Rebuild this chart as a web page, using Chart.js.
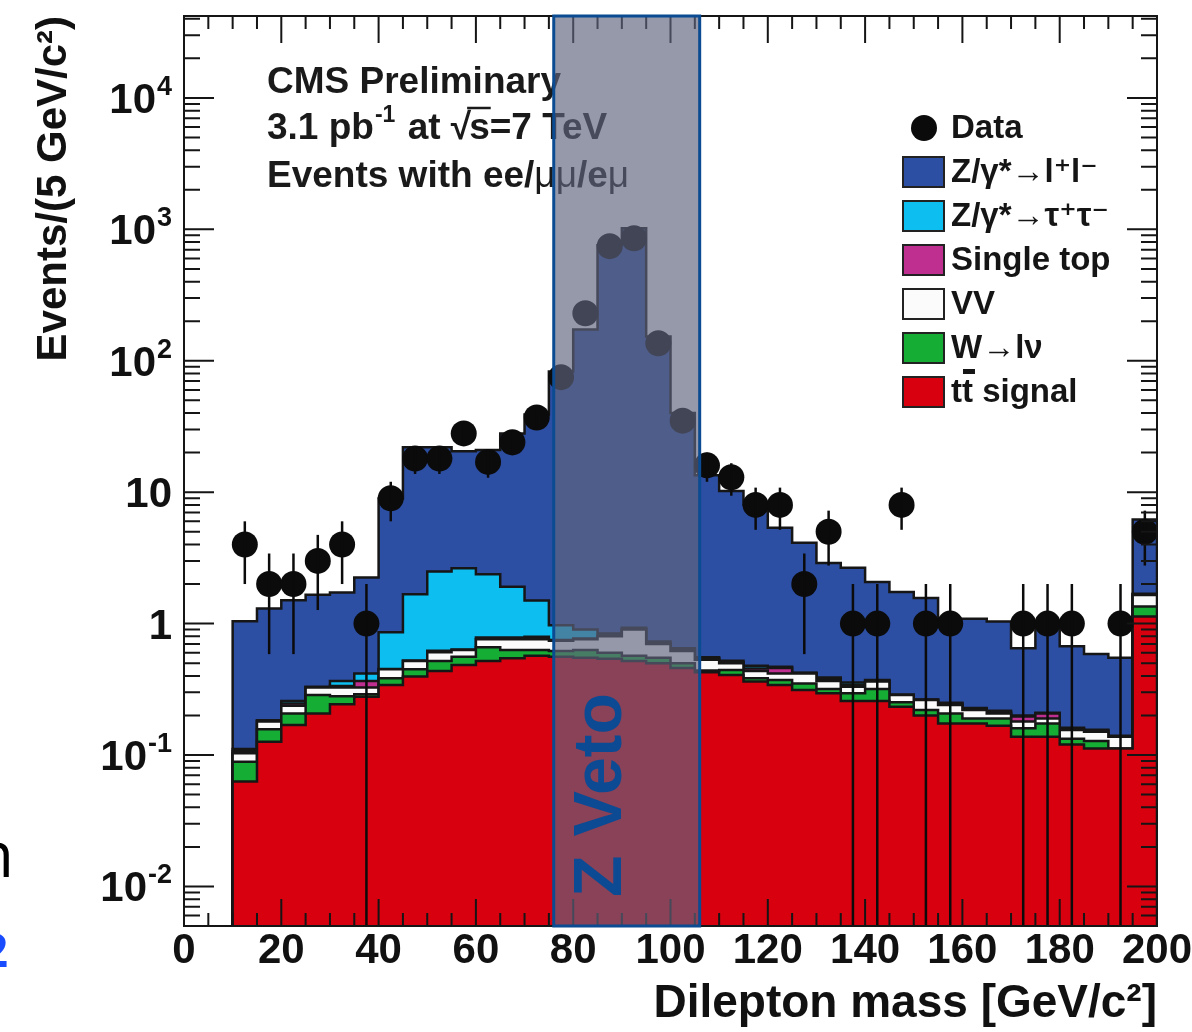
<!DOCTYPE html>
<html>
<head>
<meta charset="utf-8">
<title>Dilepton mass</title>
<script src="https://cdn.jsdelivr.net/npm/chart.js@4.4.1/dist/chart.umd.min.js"></script>
<style>
html, body { margin:0; padding:0; background:#ffffff; overflow:hidden; }
#wrap { position:relative; width:1192px; height:1032px; }
canvas { display:block; }
</style>
</head>
<body>
<div id="wrap"><canvas id="chart" width="1192" height="1032"></canvas></div>
<script>
// ---------------- values ----------------
const binLowEdges = [10,15,20,25,30,35,40,45,50,55,60,65,70,75,80,85,90,95,100,105,110,115,120,125,130,135,140,145,150,155,160,165,170,175,180,185,190,195];
const BIN_WIDTH = 5;

const ttSignal  = [0.063,0.126,0.169,0.207,0.243,0.278,0.341,0.395,0.436,0.485,0.52,0.544,0.57,0.56,0.55,0.54,0.52,0.50,0.46,0.426,0.407,0.362,0.341,0.313,0.295,0.258,0.258,0.233,0.20,0.174,0.174,0.167,0.138,0.138,0.12,0.112,0.112,1.13];
const wLnu      = [0.026,0.031,0.038,0.079,0.037,0.012,0.042,0.055,0.084,0.075,0.14,0.086,0.06,0.06,0.08,0.06,0.05,0.05,0.04,0.014,0.037,0.021,0.031,0.037,0.023,0.037,0.06,0.019,0.02,0.033,0.016,0.023,0.022,0.036,0.013,0.016,0.0,0.22];
const diboson   = [0.014,0.023,0.030,0.040,0.046,0.036,0.067,0.07,0.085,0.07,0.10,0.13,0.13,0.12,0.13,0.20,0.33,0.15,0.12,0.09,0.056,0.053,0.046,0.068,0.048,0.036,0.044,0.034,0.042,0.033,0.03,0.017,0.02,0.016,0.022,0.022,0.026,0.30];
const singleTop = [0.004,0.002,0.010,0.002,0.009,0.04,0.002,0.004,0.016,0.006,0.024,0.024,0.034,0.01,0.01,0.01,0.01,0.01,0.01,0.012,0.011,0.020,0.042,0.002,0.011,0.012,0.005,0.001,0.001,0.005,0.004,0.005,0.016,0.017,0.003,0.003,0.001,0.02];
const zTauTau   = [0.004,0.002,0.011,0.002,0.031,0.052,0.408,1.146,1.869,2.004,1.586,1.126,0.706,0.22,0.13,0.03,0.02,0.02,0.02,0.012,0.011,0.021,0.01,0.002,0.012,0.013,0.005,0.001,0.001,0.005,0.004,0.005,0.004,0.003,0.003,0.003,0.001,0.02];
const zLL       = [0.93,1.12,1.25,1.33,1.36,1.82,8.1,20.3,19.5,17.8,18.6,26.1,37.5,82,172,756,1019,152,39.4,12.9,9.7,7.5,4.9,3.7,2.5,2.3,1.7,1.45,1.3,0.84,0.86,0.82,0.45,0.79,0.51,0.43,0.41,4.5];
const dataCounts = [4,2,2,3,4,1,9,18,18,28,17,24,37,75,230,745,855,136,35,16,13,8,8,2,5,1,1,8,1,1,0,0,1,1,1,0,1,5];

const yTickValues   = [0.01, 0.1, 1, 10, 100, 1000, 10000];
const yTickBases    = ['10', '10', '1', '10', '10', '10', '10'];
const yTickExponents = ['-2', '-1', '', '', '2', '3', '4'];
const X_MIN = 0, X_MAX = 200, Y_MIN = 0.005, Y_MAX = 42000;
const VETO_LOW = 76, VETO_HIGH = 106;
const legendLabels = ['Data','Z/\u03B3*\u2192l\u207Al\u207B','Z/\u03B3*\u2192\u03C4\u207A\u03C4\u207B','Single top','VV','W\u2192l\u03BD','tt signal'];

// ---------------- styling ----------------
const FONT = "'Liberation Sans', Arial, Helvetica, 'DejaVu Sans', sans-serif";
const layers = [
  { name:'tt signal',   values: ttSignal,  color:'#d8000f' },
  { name:'W->lnu',      values: wLnu,      color:'#16ad35' },
  { name:'VV',          values: diboson,   color:'#fbfbfb' },
  { name:'Single top',  values: singleTop, color:'#bf2f8f' },
  { name:'Z->tautau',   values: zTauTau,   color:'#0cbff0' },
  { name:'Z->ll',       values: zLL,       color:'#2d4fa3' }
];

// cumulative stack tops (bottom -> top)
const cumulative = [];
let running = binLowEdges.map(() => 0);
layers.forEach(l => {
  running = running.map((r, i) => r + l.values[i]);
  cumulative.push(running.slice());
});

function stepPoints(cum) {
  const xEnd = binLowEdges[binLowEdges.length - 1] + BIN_WIDTH;
  const pts = [{ x: binLowEdges[0], y: Y_MIN }];
  cum.forEach((v, i) => pts.push({ x: binLowEdges[i], y: v }));
  pts.push({ x: xEnd, y: cum[cum.length - 1] });
  pts.push({ x: xEnd, y: Y_MIN });
  return pts;
}

const datasets = [{
  label: 'Data',
  type: 'line',
  data: dataCounts.map((n, i) => ({ x: binLowEdges[i] + BIN_WIDTH / 2, y: n > 0 ? n : null })),
  showLine: false,
  pointRadius: 13,
  pointHoverRadius: 13,
  pointBackgroundColor: '#0b0b0b',
  pointBorderColor: '#0b0b0b',
  pointBorderWidth: 0,
  clip: false
}];
layers.forEach((l, k) => {
  datasets.push({
    label: l.name,
    type: 'line',
    data: stepPoints(cumulative[k]),
    stepped: 'before',
    fill: 'start',
    backgroundColor: l.color,
    borderColor: '#161616',
    borderWidth: 2.5,
    borderJoinStyle: 'miter',
    pointRadius: 0,
    pointHoverRadius: 0,
    tension: 0
  });
});

// ---------------- drawing helpers ----------------
function drawInfoText(ctx) {
  ctx.fillStyle = '#1a1a1a';
  ctx.textAlign = 'left';
  ctx.textBaseline = 'alphabetic';
  const B = `bold 37px ${FONT}`, R = `37px ${FONT}`, S = `bold 23px ${FONT}`;
  ctx.font = B;
  ctx.fillText('CMS Preliminary', 267, 93);

  let xx = 267;
  const yb = 139;
  ctx.font = B; ctx.fillText('3.1 pb', xx, yb); xx += ctx.measureText('3.1 pb').width + 1;
  ctx.font = S; ctx.fillText('-1', xx, yb - 17); xx += ctx.measureText('-1').width + 2;
  ctx.font = B; ctx.fillText(' at ', xx, yb); xx += ctx.measureText(' at ').width;
  ctx.fillText('\u221A', xx, yb); xx += ctx.measureText('\u221A').width - 2;
  const sW = ctx.measureText('s').width;
  ctx.fillText('s=7 TeV', xx, yb);
  ctx.save(); ctx.strokeStyle = '#1a1a1a'; ctx.lineWidth = 2.5;
  ctx.beginPath(); ctx.moveTo(xx - 2, yb - 31); ctx.lineTo(xx + sW + 1, yb - 31); ctx.stroke();
  ctx.restore();

  xx = 267;
  const y3 = 187;
  ctx.font = B; ctx.fillText('Events with ee/', xx, y3); xx += ctx.measureText('Events with ee/').width;
  ctx.font = R; ctx.fillText('\u03BC\u03BC', xx, y3); xx += ctx.measureText('\u03BC\u03BC').width;
  ctx.font = B; ctx.fillText('/e', xx, y3); xx += ctx.measureText('/e').width;
  ctx.font = R; ctx.fillText('\u03BC', xx, y3);
}

function drawYLabels(ctx, yScale) {
  const right = 172;
  ctx.fillStyle = '#111';
  ctx.textAlign = 'right';
  ctx.textBaseline = 'alphabetic';
  yTickValues.forEach((v, i) => {
    const py = yScale.getPixelForValue(v);
    let xr = right;
    if (yTickExponents[i]) {
      ctx.font = `bold 27px ${FONT}`;
      ctx.fillText(yTickExponents[i], xr, py - 3);
      xr -= ctx.measureText(yTickExponents[i]).width + 1;
    }
    ctx.font = `bold 42px ${FONT}`;
    ctx.fillText(yTickBases[i], xr, py + 15);
  });
}

function drawLegend(ctx) {
  const x0 = 903, boxW = 41, boxH = 30, rowH = 44, top = 128, textX = 951;
  const rowColors = [null, layers[5].color, layers[4].color, layers[3].color, layers[2].color, layers[1].color, layers[0].color];
  ctx.font = `bold 33px ${FONT}`;
  ctx.textBaseline = 'middle';
  ctx.textAlign = 'left';
  legendLabels.forEach((lab, i) => {
    const cy = top + i * rowH;
    if (i === 0) {
      ctx.fillStyle = '#0b0b0b';
      ctx.beginPath(); ctx.arc(x0 + 21, cy, 13, 0, Math.PI * 2); ctx.fill();
    } else {
      ctx.fillStyle = rowColors[i];
      ctx.fillRect(x0, cy - boxH / 2, boxW, boxH);
      ctx.strokeStyle = '#222'; ctx.lineWidth = 2;
      ctx.strokeRect(x0, cy - boxH / 2, boxW, boxH);
    }
    ctx.fillStyle = '#151515';
    ctx.fillText(lab, textX, cy + 1);
    if (i === legendLabels.length - 1) {
      const wt = ctx.measureText('t').width;
      ctx.fillRect(textX + wt + 1, cy - 23, wt + 1, 5);
    }
  });
}

const rootPlugin = {
  id: 'rootStyle',
  afterDatasetsDraw(chart) {
    const { ctx, chartArea: ca, scales: { x, y } } = chart;
    ctx.save();
    ctx.beginPath(); ctx.rect(ca.left, ca.top, ca.right - ca.left, ca.bottom - ca.top); ctx.clip();
    ctx.strokeStyle = '#0b0b0b'; ctx.lineWidth = 2.5;
    dataCounts.forEach((n, i) => {
      if (n <= 0) return;
      const px = x.getPixelForValue(binLowEdges[i] + BIN_WIDTH / 2);
      const e = Math.sqrt(n);
      const yHi = y.getPixelForValue(n + e);
      const lo = n - e;
      const yLo = lo > Y_MIN ? y.getPixelForValue(lo) : ca.bottom;
      ctx.beginPath(); ctx.moveTo(px, yHi); ctx.lineTo(px, yLo); ctx.stroke();
    });
    ctx.restore();
  },
  afterDraw(chart) {
    const { ctx, chartArea: ca, scales: { x, y } } = chart;
    ctx.save();
    drawInfoText(ctx);
    drawYLabels(ctx, y);

    // tick marks inside the frame, on all four sides
    ctx.strokeStyle = '#151515'; ctx.lineWidth = 2; ctx.lineCap = 'butt';
    ctx.beginPath();
    for (let v = X_MIN; v <= X_MAX; v += 5) {
      const px = x.getPixelForValue(v);
      const len = v % 20 === 0 ? 27 : 13;
      ctx.moveTo(px, ca.bottom); ctx.lineTo(px, ca.bottom - len);
      ctx.moveTo(px, ca.top); ctx.lineTo(px, ca.top + len);
    }
    for (let d = -3; d <= 4; d++) {
      for (let m = 1; m <= 9; m++) {
        const v = m * Math.pow(10, d);
        if (v < Y_MIN || v > Y_MAX) continue;
        const py = y.getPixelForValue(v);
        const len = m === 1 ? 30 : 16;
        ctx.moveTo(ca.left, py); ctx.lineTo(ca.left + len, py);
        ctx.moveTo(ca.right, py); ctx.lineTo(ca.right - len, py);
      }
    }
    ctx.stroke();
    ctx.strokeRect(ca.left, ca.top, ca.right - ca.left, ca.bottom - ca.top);

    drawLegend(ctx);

    // Z veto window
    const vx1 = x.getPixelForValue(VETO_LOW), vx2 = x.getPixelForValue(VETO_HIGH);
    ctx.fillStyle = 'rgba(95,100,125,0.66)';
    ctx.fillRect(vx1, ca.top, vx2 - vx1, ca.bottom - ca.top);
    ctx.strokeStyle = '#0b4b91'; ctx.lineWidth = 3;
    ctx.strokeRect(vx1, ca.top, vx2 - vx1, ca.bottom - ca.top);

    ctx.save();
    ctx.translate(vx1 + 67, ca.bottom - 29);
    ctx.rotate(-Math.PI / 2);
    ctx.font = `bold 68px ${FONT}`;
    ctx.fillStyle = '#0c4a94';
    ctx.textAlign = 'left'; ctx.textBaseline = 'alphabetic';
    ctx.fillText('Z Veto', 0, 0);
    ctx.restore();

    // cropped fragments at the left margin
    ctx.textAlign = 'right'; ctx.textBaseline = 'alphabetic';
    ctx.font = `64px 'Open Sans', sans-serif`; ctx.fillStyle = '#000';
    ctx.fillText('n', 14, 877);
    ctx.font = `bold 46px 'Open Sans', sans-serif`; ctx.fillStyle = '#1a4cff';
    ctx.fillText('2', 8, 967);
    ctx.restore();
  }
};

new Chart(document.getElementById('chart'), {
  type: 'line',
  data: { datasets },
  options: {
    responsive: false,
    animation: false,
    devicePixelRatio: 1,
    events: [],
    layout: { padding: { left: 0, right: 35, top: 16, bottom: 0 } },
    plugins: {
      legend: { display: false },
      tooltip: { enabled: false },
      filler: { propagate: false }
    },
    scales: {
      x: {
        type: 'linear', min: X_MIN, max: X_MAX,
        grid: { display: false, drawTicks: false },
        border: { display: false },
        ticks: { stepSize: 20, autoSkip: false, maxRotation: 0, padding: 0, color: '#111',
                 font: { family: FONT, size: 42, weight: 'bold' } },
        title: { display: true, text: 'Dilepton mass [GeV/c\u00B2]', align: 'end', color: '#111',
                 font: { family: FONT, size: 46, weight: 'bold' }, padding: { top: 0, bottom: 0 } },
        afterFit(s) { s.height = 106; s.paddingLeft = 0; s.paddingRight = 0; }
      },
      y: {
        type: 'logarithmic', min: Y_MIN, max: Y_MAX,
        grid: { display: false, drawTicks: false },
        border: { display: false },
        afterBuildTicks(s) { s.ticks = yTickValues.map(v => ({ value: v, major: true })); },
        ticks: { display: false },
        title: { display: true, text: 'Events/(5 GeV/c\u00B2)', align: 'end', color: '#111',
                 font: { family: FONT, size: 42, weight: 'bold' }, padding: { top: 29, bottom: 0 } },
        afterFit(s) { s.width = 184; s.paddingTop = 0; s.paddingBottom = 0; }
      }
    }
  },
  plugins: [rootPlugin]
});
</script>
</body>
</html>
